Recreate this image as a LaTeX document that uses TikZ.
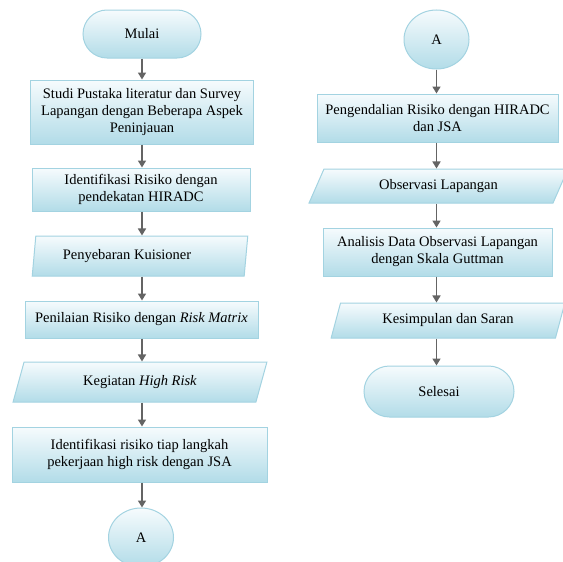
\documentclass[tikz,border=0pt]{standalone}
\usepackage{fontspec}
\setmainfont{Liberation Serif}
\usetikzlibrary{arrows.meta,shapes.geometric,shapes.misc}

\definecolor{edgeblue}{HTML}{A3D3E1}
\definecolor{filltop}{HTML}{F6FBFD}
\definecolor{fillbot}{HTML}{B2DCE8}
\definecolor{arrowgray}{HTML}{646464}

\tikzset{
  shape box/.style={draw=edgeblue, line width=1pt, top color=filltop, bottom color=fillbot,
    align=center, inner sep=2pt, font=\fontsize{14.5}{17}\selectfont},
  proc/.style={shape box, rectangle},
  term/.style={shape box, rounded rectangle},
  conn/.style={shape box, ellipse},
  io/.style={shape box, trapezium, trapezium stretches=true},
  flow/.style={draw=arrowgray, line width=1.6pt, -{Triangle[width=8pt,length=7pt]}}
}

\begin{document}
\begin{tikzpicture}[x=1pt, y=-1pt]
     \useasboundingbox (0,0) rectangle (563,562);

     % left column
     \node[term, minimum width=122pt, minimum height=48pt] (mulai) at (142,34) {Mulai};
     \node[proc, minimum width=223pt, minimum height=64pt] (studi) at (142,112)
          {Studi Pustaka literatur dan Survey\\Lapangan dengan Beberapa Aspek\\Peninjauan};
     \node[proc, minimum width=218pt, minimum height=43pt] (ident) at (141,189.5)
          {Identifikasi Risiko dengan\\pendekatan HIRADC};
     \node[io, trapezium left angle=81, trapezium right angle=99,
           minimum width=216pt, minimum height=40pt] (sebar) at (140,256) {Penyebaran Kuisioner\hspace*{26pt}};
     \node[proc, minimum width=233pt, minimum height=37pt] (nilai) at (141.5,319.5)
          {Penilaian Risiko dengan \textit{Risk Matrix}};
     \node[io, trapezium left angle=72, trapezium right angle=108,
           minimum width=254pt, minimum height=40pt] (giat) at (140,382) {Kegiatan \textit{High Risk}};
     \node[proc, minimum width=255pt, minimum height=55pt] (jsa) at (139.5,454.5)
          {Identifikasi risiko tiap langkah\\pekerjaan high risk dengan JSA};
     \node[conn, minimum width=65pt, minimum height=59pt, inner sep=0pt] (akiri) at (141,537.5) {A};

     % right column
     \node[conn, minimum width=65pt, minimum height=59pt, inner sep=0pt] (akanan) at (436.5,39.5) {A};
     \node[proc, minimum width=241pt, minimum height=48pt] (kendali) at (437.5,118)
          {Pengendalian Risiko dengan HIRADC\\dan JSA};
     \node[io, trapezium left angle=65, trapezium right angle=115,
           minimum width=259pt, minimum height=34pt] (obs) at (438.5,186) {Observasi Lapangan};
     \node[proc, minimum width=229pt, minimum height=48pt] (anal) at (437.5,252)
          {Analisis Data Observasi Lapangan\\dengan Skala Guttman};
     \node[io, trapezium left angle=71, trapezium right angle=109,
           minimum width=234pt, minimum height=35pt] (simpul) at (448,320.5) {Kesimpulan dan Saran};
     \node[term, minimum width=154pt, minimum height=51pt] (selesai) at (439,391.5) {Selesai};

     \draw[flow] (mulai.south) -- (mulai.south |- studi.north);
     \draw[flow] (mulai.south |- studi.south) -- (mulai.south |- ident.north);
     \draw[flow] (mulai.south |- ident.south) -- (mulai.south |- sebar.north);
     \draw[flow] (mulai.south |- sebar.south) -- (mulai.south |- nilai.north);
     \draw[flow] (mulai.south |- nilai.south) -- (mulai.south |- giat.north);
     \draw[flow] (mulai.south |- giat.south) -- (mulai.south |- jsa.north);
     \draw[flow] (mulai.south |- jsa.south) -- (mulai.south |- akiri.north);

     \draw[flow] (akanan.south) -- (akanan.south |- kendali.north);
     \draw[flow] (akanan.south |- kendali.south) -- (akanan.south |- obs.north);
     \draw[flow] (akanan.south |- obs.south) -- (akanan.south |- anal.north);
     \draw[flow] (akanan.south |- anal.south) -- (akanan.south |- simpul.north);
     \draw[flow] (akanan.south |- simpul.south) -- (akanan.south |- selesai.north);
\end{tikzpicture}
\end{document}
